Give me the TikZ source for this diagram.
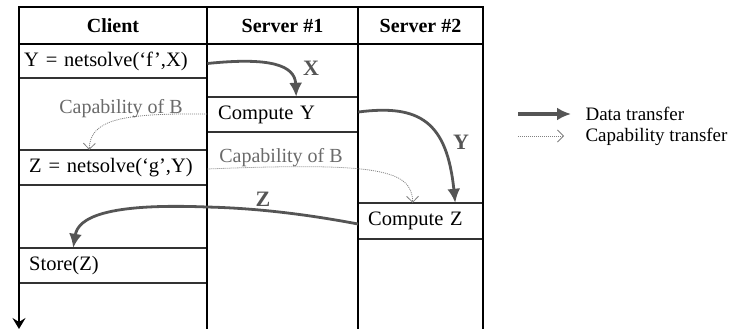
\documentclass[tikz,border=0pt]{standalone}
\usepackage{fontspec}
\setmainfont{Liberation Serif}
\usetikzlibrary{arrows.meta}
\definecolor{flowgray}{HTML}{555555}
\definecolor{capgray}{HTML}{808080}
\definecolor{captext}{HTML}{6A6A6A}
\begin{document}
\begin{tikzpicture}[x=1pt,y=-1pt,
  every node/.style={font=\fontsize{20}{24}\selectfont},
  frame/.style={line width=2pt,black},
  rowline/.style={line width=1.1pt,black!80},
  cell/.style={rectangle,inner sep=0pt,anchor=west,align=left,
    font=\fontsize{20.5}{24}\selectfont},
  head/.style={font=\fontsize{20}{24}\selectfont\bfseries},
  data/.style={flowgray,line width=2.8pt,-{Latex[length=14pt,width=13pt]}},
  capab/.style={capgray,line width=0.8pt,dash pattern=on 1pt off 1pt,
    -{Straight Barb[length=6pt,width=12pt,line width=0.8pt]}},
  caplabel/.style={text=captext},
  datalabel/.style={text=flowgray,font=\fontsize{22}{24}\selectfont\bfseries}]
\useasboundingbox (0,0) rectangle (741,329);

% row separators inside the columns
\draw[rowline] (19,78) -- (207,78);
\draw[rowline] (19,150) -- (207,150);
\draw[rowline] (19,185) -- (207,185);
\draw[rowline] (19,248) -- (207,248);
\draw[rowline] (19,283) -- (207,283);
\draw[rowline] (207,97) -- (358,97);
\draw[rowline] (207,132) -- (358,132);
\draw[rowline] (358,203) -- (483,203);
\draw[rowline] (358,239) -- (483,239);

% outer frame and column dividers
\draw[frame] (18,7) -- (484,7);
\draw[frame] (19,44) -- (483,44);
\draw[frame] (207,7) -- (207,329);
\draw[frame] (358,7) -- (358,329);
\draw[frame] (483,7) -- (483,329);
\draw[frame,-{Stealth[length=11pt,width=13pt,inset=4pt]}] (19,7) -- (19,329);

% column headings
\node[head] (hclient) at (113,26) {Client};
\node[head] (hs1) at (282.5,26) {Server \#1};
\node[head] (hs2) at (420.5,26) {Server \#2};

% cells (sized so their borders are the connector anchors)
\node[cell,minimum width=188pt,minimum height=33pt,text width=178pt,inner xsep=5pt]
  (ycall) at (19,61.5) {Y = netsolve(‘f’,X)};
\node[cell,minimum width=188pt,minimum height=35pt,text width=176pt,inner xsep=6pt]
  (zcall) at (19,167.5) {\hspace*{4pt}Z = netsolve(‘g’,Y)};
\node[cell,minimum width=188pt,minimum height=35pt,text width=168pt,inner xsep=10pt]
  (store) at (19,265.5) {Store(Z)};
\node[cell,minimum width=151pt,minimum height=35pt,text width=129pt,inner xsep=11pt]
  (compy) at (207,114.5) {Compute Y};
\node[cell,minimum width=125pt,minimum height=36pt,text width=105pt,inner xsep=10pt]
  (compz) at (358,221) {Compute Z};

% data transfers
\draw[data] ([yshift=-2pt]ycall.east) .. controls (270,57) and (295,65) .. ([xshift=13.5pt]compy.north);
\node[datalabel] (lx) at (311,68) {X};

\draw[data] ([yshift=2.5pt]compy.east) .. controls (420,104) and (447,122) .. ([xshift=34.5pt]compz.north);
\node[datalabel] (ly) at (461,142) {Y};

\draw[data] ([yshift=-3pt]compz.west) .. controls (300,213) and (250,208) .. (207,207)
  .. controls (105,203) and (78,218) .. ([xshift=-40pt]store.north);
\node[datalabel] (lz) at (263,199) {Z};

% capability transfers
\draw[capab] ([yshift=0.5pt]compy.west) .. controls (120,113) and (90,120) .. ([xshift=-24pt]zcall.north);
\node[caplabel] (lc1) at (121,109) {Capability of B};

\draw[capab] ([yshift=-1.5pt]zcall.east) .. controls (380,162) and (412,170) .. ([xshift=-8pt]compz.north);
\node[caplabel] (lc2) at (281,158) {Capability of B};

% legend
\coordinate (legA1) at (518,114);
\coordinate (legA2) at (571,114);
\coordinate (legB1) at (518,136);
\coordinate (legB2) at (564,136);
\draw[data,line width=3.5pt] (legA1) -- (legA2);
\draw[capab] (legB1) -- (legB2);
\node[anchor=west,font=\fontsize{19}{22}\selectfont] (legdata) at (582,114) {Data transfer};
\node[anchor=west,font=\fontsize{19}{22}\selectfont] (legcap) at (582,137) {Capability transfer};
\end{tikzpicture}
\end{document}
